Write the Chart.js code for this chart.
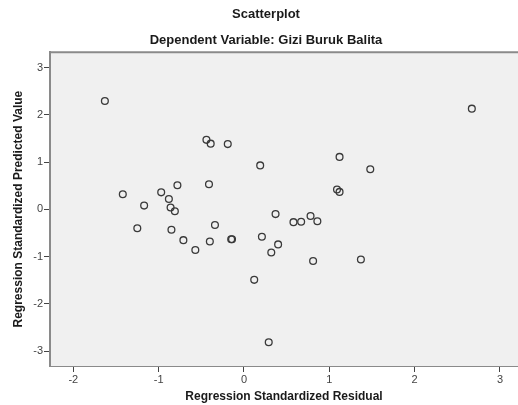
<!DOCTYPE html>
<html>
<head>
<meta charset="utf-8">
<script src="https://cdn.jsdelivr.net/npm/chart.js@4"></script>
<style>
html, body { margin:0; padding:0; background:#fff; }
.chart-box { width:518px; height:405px; }
</style>
</head>
<body>
<div class="chart-box">
    <canvas id="scatter"></canvas>
</div>
<script>
    //values
    const residuals = [-1.63, -0.44, -0.39, -0.19, 0.19, -0.78, -0.41, -1.42, -0.97, -0.88, -1.17, -0.86, -0.81, 0.37,
        -1.25, -0.85, -0.34, -0.71, -0.40, -0.15, -0.14, -0.57, 0.21, 0.32, 0.40, 0.12, 0.29,
        2.67, 1.12, 1.48, 1.09, 1.12, 0.58, 0.67, 0.78, 0.86, 0.81, 1.37];
    const predicted = [2.29, 1.47, 1.39, 1.38, 0.93, 0.51, 0.53, 0.32, 0.36, 0.22, 0.08, 0.04, -0.04, -0.10,
        -0.40, -0.43, -0.33, -0.65, -0.68, -0.63, -0.63, -0.86, -0.58, -0.91, -0.74, -1.49, -2.81,
        2.13, 1.11, 0.85, 0.42, 0.37, -0.27, -0.26, -0.14, -0.25, -1.09, -1.06];
    const xTicks = [-2, -1, 0, 1, 2, 3];
    const yTicks = [-3, -2, -1, 0, 1, 2, 3];

    const points = residuals.map((x, i) => ({ x: x, y: predicted[i] }));
    const fontName = '"Liberation Sans", Arial, sans-serif';

    /*plot background + frame*/
    const plotFrame = {
        id: 'plotFrame',
        beforeDatasetsDraw(chart) {
            const { ctx, chartArea: a } = chart;
            ctx.save();
            ctx.fillStyle = '#f0f0f0';
            ctx.fillRect(a.left, a.top, a.right - a.left, a.bottom - a.top);
            ctx.strokeStyle = '#8a8a8a';
            ctx.lineWidth = 2;
            ctx.beginPath();
            ctx.moveTo(a.left, a.bottom);
            ctx.lineTo(a.left, a.top);
            ctx.lineTo(a.right, a.top);
            ctx.stroke();
            ctx.restore();
        }
    };

    new Chart(document.getElementById('scatter'), {
        type: 'scatter',
        data: {
            datasets: [{
                data: points,
                pointStyle: 'circle',
                pointRadius: 3.4,
                pointHoverRadius: 3.4,
                pointBorderWidth: 1.3,
                borderColor: '#3a3a3a',
                backgroundColor: 'rgba(0,0,0,0)'
            }]
        },
        plugins: [plotFrame],
        options: {
            responsive: true,
            maintainAspectRatio: false,
            animation: false,
            layout: { autoPadding: false, padding: { left: 14, right: 0, top: 0, bottom: 0 } },
            plugins: {
                legend: { display: false },
                tooltip: { enabled: false },
                title: {
                    display: true,
                    text: 'Scatterplot',
                    color: '#1a1a1a',
                    font: { family: fontName, size: 13, weight: 'bold' },
                    padding: { top: 7, bottom: 10 }
                },
                subtitle: {
                    display: true,
                    text: 'Dependent Variable: Gizi Buruk Balita',
                    color: '#1a1a1a',
                    font: { family: fontName, size: 13, weight: 'bold' },
                    padding: { top: 0, bottom: 4 }
                }
            },
            scales: {
                x: {
                    type: 'linear',
                    min: -2.273,
                    max: 3.211,
                    afterFit: (scale) => { scale.height = 39; },
                    afterBuildTicks: (scale) => { scale.ticks = xTicks.map(v => ({ value: v })); },
                    grid: { drawOnChartArea: false, drawTicks: true, tickLength: 6, color: '#444', lineWidth: 1 },
                    border: { display: true, color: '#8a8a8a', width: 2 },
                    ticks: {
                        color: '#444',
                        padding: 1,
                        maxRotation: 0,
                        font: { family: fontName, size: 11 }
                    },
                    title: {
                        display: true,
                        text: 'Regression Standardized Residual',
                        color: '#1a1a1a',
                        font: { family: fontName, size: 12, weight: 'bold' },
                        padding: { top: 0, bottom: 1 }
                    }
                },
                y: {
                    type: 'linear',
                    min: -3.311,
                    max: 3.323,
                    afterFit: (scale) => { scale.width = 36; },
                    afterBuildTicks: (scale) => { scale.ticks = yTicks.map(v => ({ value: v })); },
                    grid: { drawOnChartArea: false, drawTicks: true, tickLength: 6, color: '#444', lineWidth: 1 },
                    border: { display: true, color: '#8a8a8a', width: 2 },
                    ticks: {
                        color: '#444',
                        padding: 1,
                        font: { family: fontName, size: 11 }
                    },
                    title: {
                        display: true,
                        text: 'Regression Standardized Predicted Value',
                        color: '#1a1a1a',
                        font: { family: fontName, size: 12, weight: 'bold' },
                        padding: { top: -3, bottom: 0 }
                    }
                }
            }
        }
    });
</script>
</body>
</html>
